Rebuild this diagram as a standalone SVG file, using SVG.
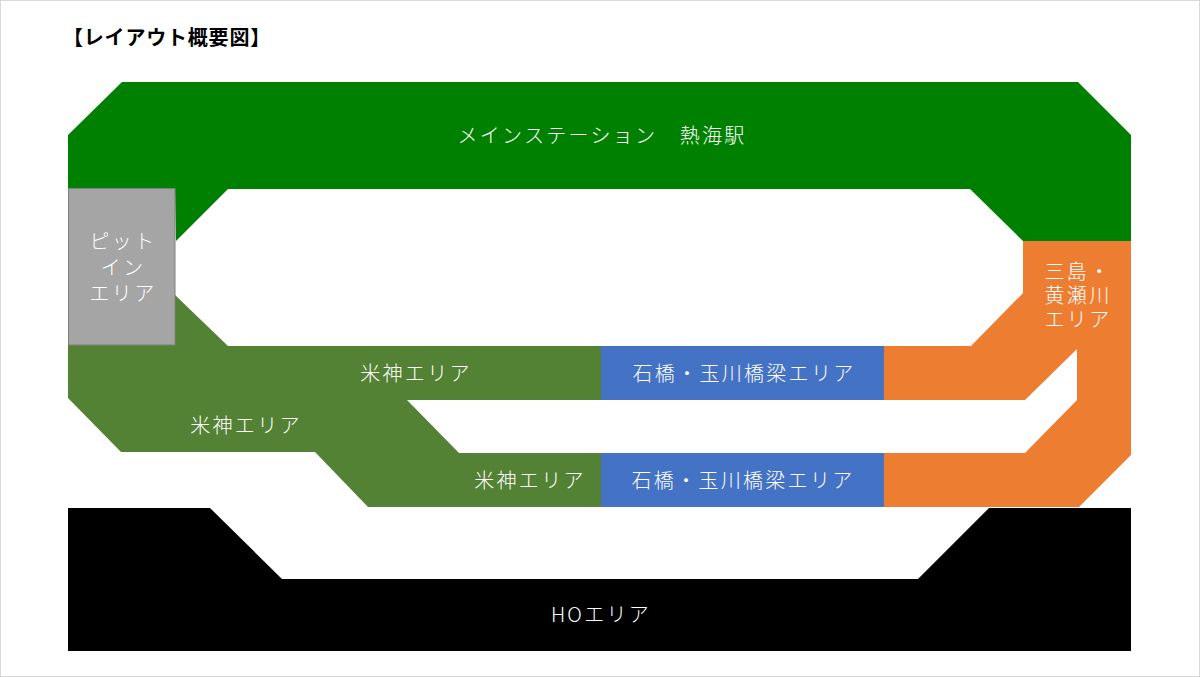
<svg xmlns="http://www.w3.org/2000/svg" width="1200" height="677" viewBox="0 0 1200 677">
<style>
.lbl{font-family:"Noto Sans CJK JP","Noto Sans",sans-serif;font-size:20px;font-weight:300;fill:#ffffff;letter-spacing:2.3px;text-anchor:middle}
.title{font-family:"Noto Sans CJK JP","Noto Sans",sans-serif;font-size:20px;font-weight:700;fill:#000000;letter-spacing:0.8px}
</style>
<rect x="0.5" y="0.5" width="1199" height="676" fill="#ffffff" stroke="#d9d9d9" stroke-width="1"/>
<text class="title" x="63" y="45">【レイアウト概要図】</text>

<g id="main-station">
<polygon points="122,82 1078,82 1131,135 1131,241 1023,241 970,189 228,189 176,241 175,188 68,188 68,135" fill="#008000"/>
<text class="lbl" x="602" y="143">メインステーション　熱海駅</text>
</g>

<g id="yonegami-area">
<polygon points="175,295 228,346 601,346 601,400 407,400 459,453 601,453 601,507 368,507 315,452 121,452 68,398 68,345 175,345" fill="#548235"/>
<text class="lbl" x="416" y="381">米神エリア</text>
<text class="lbl" x="246" y="433">米神エリア</text>
<text class="lbl" x="530" y="488">米神エリア</text>
</g>

<g id="pit-in-area">
<rect x="68.5" y="188.5" width="106.5" height="156.5" fill="#a5a5a5" stroke="#7f7f7f" stroke-width="1"/>
<text class="lbl"><tspan x="123" y="249">ピット</tspan><tspan x="123" y="275">イン</tspan><tspan x="123" y="301">エリア</tspan></text>
</g>

<g id="ishibashi-upper">
<rect x="601" y="346" width="283" height="54" fill="#4472c4"/>
<text class="lbl" x="744" y="381">石橋・玉川橋梁エリア</text>
</g>

<g id="ishibashi-lower">
<rect x="601" y="453" width="283" height="54" fill="#4472c4"/>
<text class="lbl" x="743" y="488">石橋・玉川橋梁エリア</text>
</g>

<g id="mishima-kisegawa-area">
<polygon points="1023,241 1131,241 1131,455 1079,507 884,507 884,453 1025,453 1077,400 1077,349 1025,400 884,400 884,346 971,346 1023,293" fill="#ed7d31"/>
<text class="lbl"><tspan x="1078" y="279">三島・</tspan><tspan x="1078" y="303">黄瀬川</tspan><tspan x="1078" y="327">エリア</tspan></text>
</g>

<g id="ho-area">
<polygon points="68,508 210,508 282,579 918,579 989,508 1131,508 1131,651 68,651" fill="#000000"/>
<text class="lbl" x="601" y="622">HOエリア</text>
</g>

<g id="connectors"></g>
</svg>
